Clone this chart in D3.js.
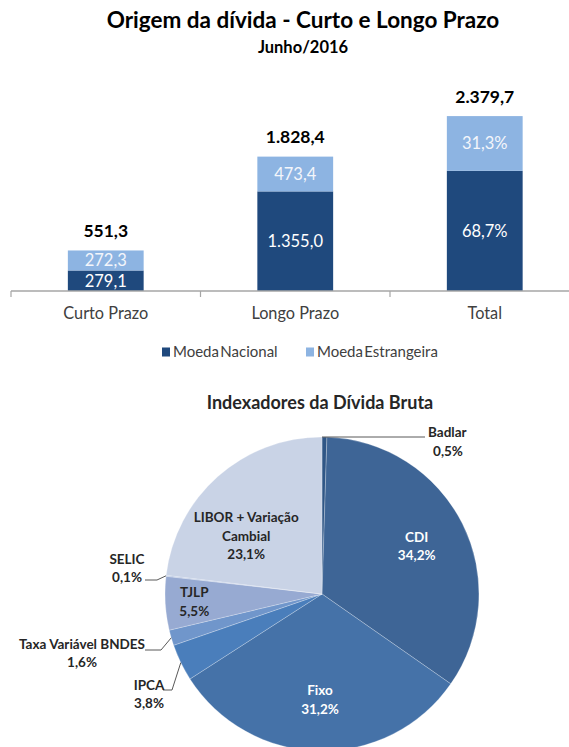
<!DOCTYPE html>
<html>
<head>
<meta charset="utf-8">
<script src="https://cdn.jsdelivr.net/npm/d3@7"></script>
<style>
  body { margin: 0; background: #fff; }
  text { font-family: Lato, "Open Sans", sans-serif; }
</style>
</head>
<body>
<div id="chart"></div>
<script>
// bar chart data
const categories = ["Curto Prazo", "Longo Prazo", "Total"];
const nacional = [279.1, 1355.0, 1634.9];
const estrangeira = [272.3, 473.4, 744.8];
const totalLabels = ["551,3", "1.828,4", "2.379,7"];
const nacionalLabels = ["279,1", "1.355,0", "68,7%"];
const estrangeiraLabels = ["272,3", "473,4", "31,3%"];
const seriesNames = ["Moeda Nacional", "Moeda Estrangeira"];

// pie data
const indexadores = ["Badlar", "CDI", "Fixo", "IPCA", "Taxa Variável BNDES", "TJLP", "SELIC", "LIBOR + Variação Cambial"];
const shares = [0.5, 34.2, 31.2, 3.8, 1.6, 5.5, 0.1, 23.1];
const shareLabels = ["0,5%", "34,2%", "31,2%", "3,8%", "1,6%", "5,5%", "0,1%", "23,1%"];

const darkBlue = "#1f497d";
const lightBlue = "#8db4e2";
const pieColors = ["#2f5686", "#3e6596", "#4572a8", "#4a7ebb", "#7096cb", "#97aad2", "#a9bbdd", "#c9d3e6"];

const W = 569, H = 747;
const svg = d3.select("#chart").append("svg")
  .attr("width", W)
  .attr("height", H);

// titles
svg.append("text")
  .attr("x", 303).attr("y", 28)
  .attr("text-anchor", "middle")
  .attr("font-size", 22.5).attr("font-weight", "bold")
  .attr("fill", "#000")
  .text("Origem da dívida - Curto e Longo Prazo");

svg.append("text")
  .attr("x", 303).attr("y", 53)
  .attr("text-anchor", "middle")
  .attr("font-size", 16.5).attr("font-weight", "bold")
  .attr("fill", "#000")
  .text("Junho/2016");

// ---- stacked bars ----
const baseY = 291;
const x = d3.scaleBand()
  .domain(categories)
  .range([11, 579.5])
  .paddingInner(0.6)
  .paddingOuter(0.3);

const y = d3.scaleLinear()
  .domain([0, 2500])
  .range([baseY, baseY - 0.0735 * 2500]);

const rows = categories.map((c, i) => ({
  cat: c,
  nac: nacional[i],
  est: estrangeira[i],
  total: totalLabels[i],
  nacLabel: nacionalLabels[i],
  estLabel: estrangeiraLabels[i]
}));

const bars = svg.append("g");

bars.selectAll(".nac")
  .data(rows)
  .enter()
  .append("rect")
  .attr("class", "nac")
  .attr("x", d => x(d.cat))
  .attr("width", x.bandwidth())
  .attr("y", d => y(d.nac))
  .attr("height", d => y(0) - y(d.nac))
  .attr("fill", darkBlue);

bars.selectAll(".est")
  .data(rows)
  .enter()
  .append("rect")
  .attr("class", "est")
  .attr("x", d => x(d.cat))
  .attr("width", x.bandwidth())
  .attr("y", d => y(d.nac + d.est))
  .attr("height", d => y(d.nac) - y(d.nac + d.est))
  .attr("fill", lightBlue);

// labels inside segments
bars.selectAll(".nac-label")
  .data(rows)
  .enter()
  .append("text")
  .attr("x", d => x(d.cat) + x.bandwidth() / 2)
  .attr("y", d => (y(0) + y(d.nac)) / 2)
  .attr("dy", "0.35em")
  .attr("text-anchor", "middle")
  .attr("font-size", 16.5)
  .attr("fill", "#fff")
  .text(d => d.nacLabel);

bars.selectAll(".est-label")
  .data(rows)
  .enter()
  .append("text")
  .attr("x", d => x(d.cat) + x.bandwidth() / 2)
  .attr("y", d => (y(d.nac) + y(d.nac + d.est)) / 2)
  .attr("dy", "0.35em")
  .attr("text-anchor", "middle")
  .attr("font-size", 16.5)
  .attr("fill", "#f4f6fb")
  .text(d => d.estLabel);

// totals on top
bars.selectAll(".tot-label")
  .data(rows)
  .enter()
  .append("text")
  .attr("x", d => x(d.cat) + x.bandwidth() / 2)
  .attr("y", d => y(d.nac + d.est) - 13.5)
  .attr("text-anchor", "middle")
  .attr("font-size", 17.5)
  .attr("font-weight", "bold")
  .attr("fill", "#000")
  .text(d => d.total);

// x axis
const xAxis = d3.axisBottom(x).tickSize(0).tickPadding(0);
const xAxisG = svg.append("g")
  .attr("transform", `translate(0, ${baseY})`)
  .call(xAxis);
xAxisG.select(".domain").remove();
xAxisG.selectAll(".tick text")
  .attr("y", 27.5).attr("dy", 0)
  .attr("font-size", 16.3)
  .attr("font-family", "Lato, sans-serif")
  .attr("fill", "#404040");

xAxisG.append("line")
  .attr("x1", x.range()[0]).attr("x2", W)
  .attr("y1", 0).attr("y2", 0)
  .attr("stroke", "#a6a6a6").attr("stroke-width", 1.5);

xAxisG.selectAll(".sep")
  .data(d3.range(categories.length + 1))
  .enter()
  .append("line")
  .attr("x1", i => x.range()[0] + i * x.step())
  .attr("x2", i => x.range()[0] + i * x.step())
  .attr("y1", 0).attr("y2", 6)
  .attr("stroke", "#a6a6a6").attr("stroke-width", 1.2);

// legend
const legend = svg.append("g");
const legendX = [162, 306];
seriesNames.forEach((name, i) => {
  legend.append("rect")
    .attr("x", legendX[i]).attr("y", 347.5)
    .attr("width", 8).attr("height", 9)
    .attr("fill", i === 0 ? darkBlue : lightBlue);
  legend.append("text")
    .attr("x", legendX[i] + 11).attr("y", 357)
    .attr("font-size", 15)
    .attr("word-spacing", -2.5)
    .attr("fill", "#404040")
    .text(name);
});

// ---- pie ----
svg.append("text")
  .attr("x", 320).attr("y", 409)
  .attr("text-anchor", "middle")
  .attr("font-size", 18).attr("font-weight", "bold")
  .attr("fill", "#262626")
  .text("Indexadores da Dívida Bruta");

const cx = 322, cy = 594, R = 157;
const pieG = svg.append("g").attr("transform", `translate(${cx},${cy})`);

const slices = d3.pie().sort(null).value(d => d.v)(
  indexadores.map((n, i) => ({ name: n, v: shares[i], label: shareLabels[i], i: i }))
);

const arc = d3.arc().innerRadius(0).outerRadius(R);

pieG.selectAll("path")
  .data(slices)
  .enter()
  .append("path")
  .attr("d", arc)
  .attr("fill", d => pieColors[d.index])
  .attr("stroke", "#ffffff")
  .attr("stroke-opacity", 0.35)
  .attr("stroke-width", 0.7);

// inside labels: radius factor, nudge x, nudge y, colour
const inside = { "CDI": [0.675, 0, 0, "#fff"], "Fixo": [0.675, 0, 0, "#fff"],
  "TJLP": [0.815, 0, 0, "#262626"], "LIBOR + Variação Cambial": [0.68, -5, 22, "#262626"] };

slices.filter(d => inside[d.data.name]).forEach(d => {
  const [k, dx, dy, col] = inside[d.data.name];
  const a = (d.startAngle + d.endAngle) / 2;
  const px = Math.sin(a) * R * k + dx;
  const py = -Math.cos(a) * R * k + dy;
  let lines = [d.data.name, d.data.label];
  if (d.data.name === "LIBOR + Variação Cambial") lines = ["LIBOR + Variação", "Cambial", d.data.label];
  const t = pieG.append("text")
    .attr("text-anchor", "middle")
    .attr("font-size", 13.5).attr("font-weight", "bold")
    .attr("fill", col);
  const lh = 18.5;
  lines.forEach((l, j) => {
    t.append("tspan")
      .attr("x", px)
      .attr("y", py + (j - (lines.length - 1) / 2) * lh)
      .attr("dy", "0.35em")
      .text(l);
  });
});

// outside labels with leader lines
const outside = {
  "Badlar": { end: [103, -157], lab: [106, -162] },
  "SELIC": { elbow: [-165, -14], end: [-177, -14], lab: [-195, -35] },
  "Taxa Variável BNDES": { elbow: [-161, 56], end: [-177, 56], lab: [-240, 50] },
  "IPCA": { elbow: [-150, 96], end: [-159, 96], lab: [-173, 91] }
};

slices.filter(d => outside[d.data.name]).forEach(d => {
  const o = outside[d.data.name];
  const a = (d.startAngle + d.endAngle) / 2;
  let start = [Math.sin(a) * R, -Math.cos(a) * R];
  let pts;
  if (d.data.name === "Badlar") {
    start = [0, -R];
    pts = [start, o.end];
  } else {
    pts = [start, o.elbow, o.end];
  }
  pieG.append("path")
    .attr("d", d3.line()(pts))
    .attr("fill", "none")
    .attr("stroke", "#595959")
    .attr("stroke-width", 1);

  const t = pieG.append("text")
    .attr("font-size", 13.5).attr("font-weight", "bold")
    .attr("fill", "#262626");
  if (d.data.name === "Badlar") {
    t.append("tspan").attr("x", o.lab[0]).attr("y", -R).attr("text-anchor", "start").text(d.data.name);
    t.append("tspan").attr("x", o.lab[0] + 20).attr("y", -R + 19).attr("text-anchor", "middle").text(d.data.label);
  } else {
    t.attr("text-anchor", "middle");
    t.append("tspan").attr("x", o.lab[0]).attr("y", o.lab[1]).attr("dy", "0.35em").text(d.data.name);
    t.append("tspan").attr("x", o.lab[0]).attr("y", o.lab[1] + 18.5).attr("dy", "0.35em").text(d.data.label);
  }
});
</script>
</body>
</html>
